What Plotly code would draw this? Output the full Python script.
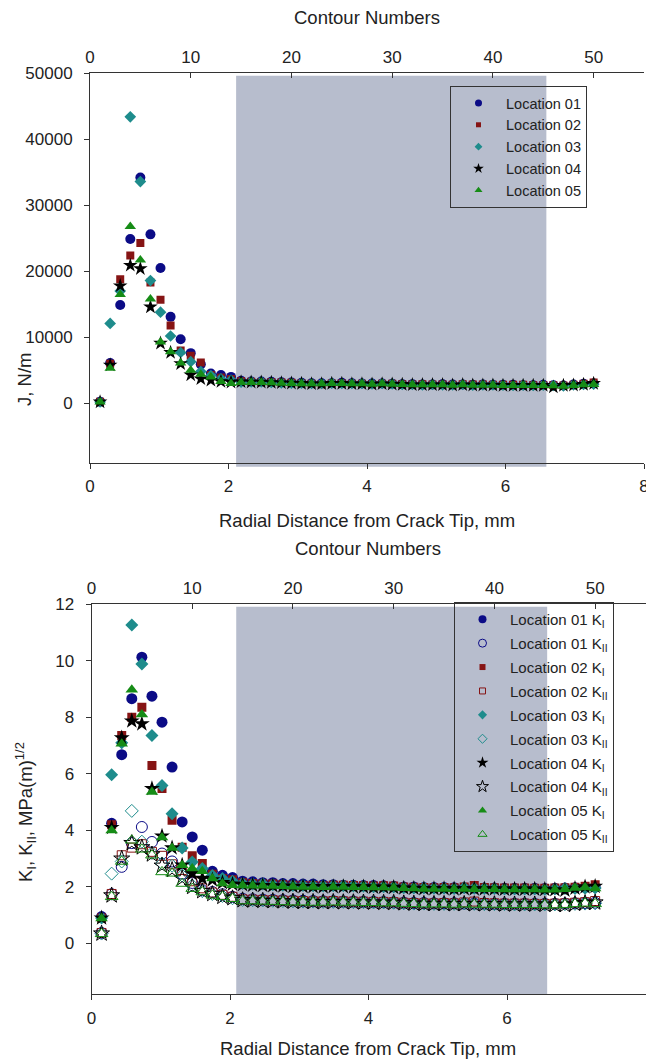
import plotly.graph_objects as go

W, H = 646, 1060

# ---------------- data ----------------
contours = [1, 2, 3, 4, 5, 6, 7, 8, 9, 10, 11, 12, 13, 14, 15, 16, 17, 18, 19, 20,
            21, 22, 23, 24, 25, 26, 27, 28, 29, 30, 31, 32, 33, 34, 35, 36, 37, 38, 39, 40,
            41, 42, 43, 44, 45, 46, 47, 48, 49, 50]

j_loc01 = [250, 6100, 14900, 24900, 34200, 25600, 20500, 13100, 9700, 7600, 5900, 4500, 4300, 4000,
           3400, 3300, 3300, 3250, 3200, 3150, 3100, 3050, 3050, 3050, 3100, 3050, 3000, 3000, 3000, 2950,
           2900, 2900, 2850, 2850, 2900, 2850, 2850, 2800, 2850, 2800, 2800, 2800, 2750, 2750, 2800, 2750,
           2700, 2850, 2950, 3000]
j_loc02 = [250, 6000, 18800, 22400, 24300, 18300, 15700, 11800, 8000, 7200, 6200, 4300, 3900, 3700,
           3350, 3250, 3200, 3200, 3150, 3100, 3000, 2950, 2900, 3000, 3000, 2950, 2950, 2900, 2950, 2950,
           2900, 2850, 2900, 2850, 2850, 2800, 2900, 2850, 2850, 2800, 2800, 2800, 2800, 2750, 2750, 2750,
           2700, 2800, 2950, 3150]
j_loc03 = [200, 12100, 17000, 43400, 33600, 18600, 13800, 10200, 7700, 6300, 4800, 4200, 3700, 3500,
           3200, 3250, 3250, 3150, 3100, 3050, 3050, 3000, 3000, 3050, 3000, 3000, 3000, 2950, 3000, 2950,
           2850, 2850, 2800, 2850, 2800, 2800, 2850, 2750, 2800, 2800, 2750, 2700, 2750, 2700, 2750, 2700,
           2650, 2800, 2850, 2900]
j_loc04 = [200, 5800, 17800, 20900, 20400, 14600, 9100, 7700, 6000, 4300, 3700, 3500, 3300, 3200,
           3250, 3200, 3200, 3150, 3100, 3050, 3000, 2950, 2950, 3000, 3000, 2950, 2950, 2900, 2950, 2900,
           2850, 2800, 2800, 2800, 2800, 2750, 2800, 2750, 2750, 2750, 2700, 2700, 2700, 2700, 2700, 2450,
           2700, 2750, 2850, 3000]
j_loc05 = [200, 5300, 16500, 26800, 21700, 15800, 9300, 7800, 6100, 5000, 4400, 4000, 3300, 3000,
           3150, 3150, 3150, 3100, 3050, 3000, 2950, 2950, 2950, 3000, 3000, 2950, 2950, 2900, 2950, 2900,
           2850, 2800, 2800, 2800, 2800, 2750, 2800, 2750, 2750, 2750, 2700, 2700, 2700, 2700, 2700, 2650,
           2600, 2700, 2800, 2850]

ki_loc01 = [0.95, 4.25, 6.68, 8.66, 10.13, 8.75, 7.83, 6.24, 4.30, 3.77, 3.30, 2.55, 2.41, 2.33,
            2.20, 2.18, 2.15, 2.15, 2.12, 2.12, 2.10, 2.10, 2.08, 2.08, 2.06, 2.06, 2.05, 2.05, 2.04, 2.02,
            2.00, 2.00, 1.98, 1.98, 1.98, 1.97, 1.97, 1.96, 1.96, 1.96, 1.95, 1.95, 1.95, 1.95, 1.94, 1.95,
            1.96, 1.97, 1.98, 2.00]
ki_loc02 = [0.90, 4.20, 7.36, 8.00, 8.36, 6.30, 5.48, 4.36, 3.40, 3.10, 2.83, 2.45, 2.30, 2.25,
            2.15, 2.12, 2.10, 2.10, 2.08, 2.06, 2.05, 2.05, 2.04, 2.06, 2.06, 2.05, 2.04, 2.03, 2.04, 2.03,
            2.00, 1.99, 1.98, 1.97, 1.98, 1.97, 2.00, 2.05, 1.98, 1.97, 1.96, 1.96, 1.96, 1.95, 1.95, 1.96,
            1.97, 1.99, 2.02, 2.08]
ki_loc03 = [0.90, 5.97, 7.10, 11.27, 9.89, 7.36, 5.59, 4.59, 3.38, 2.88, 2.65, 2.40, 2.30, 2.20,
            2.12, 2.10, 2.10, 2.08, 2.06, 2.05, 2.05, 2.04, 2.03, 2.04, 2.04, 2.03, 2.02, 2.01, 2.01, 2.00,
            1.97, 1.96, 1.96, 1.95, 1.95, 1.94, 1.97, 1.95, 1.94, 1.94, 1.93, 1.93, 1.93, 1.93, 1.92, 1.93,
            1.94, 1.94, 1.95, 1.96]
ki_loc04 = [0.90, 4.10, 7.27, 7.87, 7.77, 5.48, 3.80, 3.38, 2.77, 2.47, 2.30, 2.25, 2.15, 2.10,
            2.08, 2.06, 2.05, 2.04, 2.03, 2.02, 2.01, 2.01, 2.00, 2.01, 2.01, 2.00, 2.00, 1.99, 1.99, 1.98,
            1.96, 1.95, 1.94, 1.94, 1.94, 1.93, 1.94, 1.93, 1.93, 1.93, 1.92, 1.92, 1.92, 1.92, 1.91, 1.90,
            1.88, 1.95, 2.00, 2.02]
ki_loc05 = [0.88, 4.00, 7.07, 8.98, 8.10, 5.36, 3.75, 3.38, 2.77, 2.65, 2.55, 2.30, 2.12, 2.06,
            2.05, 2.04, 2.04, 2.03, 2.02, 2.01, 2.00, 2.00, 1.99, 2.00, 2.00, 1.99, 1.99, 1.98, 1.98, 1.97,
            1.95, 1.94, 1.93, 1.93, 1.93, 1.92, 1.93, 1.92, 1.92, 1.92, 1.91, 1.91, 1.91, 1.91, 1.90, 1.90,
            1.92, 1.96, 1.98, 1.94]

kii_loc01 = [0.37, 1.74, 2.71, 3.55, 4.12, 3.59, 3.18, 2.90, 2.47, 2.14, 1.88, 1.82, 1.74, 1.65,
             1.58, 1.56, 1.55, 1.54, 1.53, 1.52, 1.51, 1.50, 1.49, 1.49, 1.48, 1.48, 1.47, 1.47, 1.46, 1.45,
             1.44, 1.43, 1.43, 1.42, 1.42, 1.42, 1.41, 1.41, 1.41, 1.40, 1.40, 1.40, 1.40, 1.40, 1.40, 1.40,
             1.41, 1.42, 1.43, 1.44]
kii_loc02 = [0.37, 1.75, 3.12, 3.39, 3.51, 3.24, 3.10, 2.80, 2.60, 2.20, 1.95, 1.80, 1.72, 1.65,
             1.56, 1.55, 1.54, 1.53, 1.52, 1.51, 1.50, 1.49, 1.49, 1.50, 1.49, 1.48, 1.48, 1.47, 1.47, 1.46,
             1.44, 1.43, 1.42, 1.42, 1.43, 1.42, 1.45, 1.48, 1.43, 1.42, 1.41, 1.41, 1.41, 1.40, 1.40, 1.41,
             1.42, 1.44, 1.46, 1.50]
kii_loc03 = [0.35, 2.47, 2.90, 4.69, 3.60, 3.20, 2.83, 2.75, 2.40, 2.05, 1.85, 1.75, 1.68, 1.60,
             1.54, 1.53, 1.52, 1.51, 1.50, 1.49, 1.48, 1.48, 1.47, 1.47, 1.47, 1.46, 1.46, 1.45, 1.45, 1.44,
             1.42, 1.41, 1.41, 1.40, 1.40, 1.40, 1.42, 1.40, 1.39, 1.39, 1.39, 1.38, 1.38, 1.38, 1.38, 1.38,
             1.39, 1.40, 1.41, 1.42]
kii_loc04 = [0.35, 1.70, 3.00, 3.55, 3.40, 3.15, 2.75, 2.60, 2.30, 2.00, 1.85, 1.75, 1.65, 1.60,
             1.53, 1.52, 1.51, 1.50, 1.49, 1.48, 1.47, 1.47, 1.46, 1.47, 1.46, 1.46, 1.45, 1.45, 1.44, 1.44,
             1.42, 1.41, 1.40, 1.40, 1.40, 1.39, 1.40, 1.39, 1.39, 1.39, 1.38, 1.38, 1.38, 1.38, 1.37, 1.37,
             1.36, 1.40, 1.43, 1.45]
kii_loc05 = [0.34, 1.65, 2.90, 3.65, 3.33, 3.12, 2.53, 2.48, 2.12, 1.94, 1.82, 1.70, 1.65, 1.58,
             1.50, 1.50, 1.49, 1.48, 1.47, 1.46, 1.46, 1.45, 1.45, 1.46, 1.45, 1.45, 1.44, 1.44, 1.43, 1.43,
             1.41, 1.40, 1.39, 1.39, 1.39, 1.38, 1.39, 1.38, 1.38, 1.38, 1.37, 1.37, 1.37, 1.37, 1.36, 1.36,
             1.37, 1.40, 1.42, 1.40]

location_names = ["Location 01", "Location 02", "Location 03", "Location 04", "Location 05"]
radial_ticks = [0, 2, 4, 6, 8]
radial_ticks_bottom = [0, 2, 4, 6]
contour_ticks = [0, 10, 20, 30, 40, 50]
j_ticks = [0, 10000, 20000, 30000, 40000, 50000]
k_ticks = [0, 2, 4, 6, 8, 10, 12]
shade_mm_top = [2.11, 6.59]
shade_mm_bottom = [2.09, 6.58]

# ---------------- style ----------------
colors = ["#0B0B86", "#861414", "#1E8C8C", "#000000", "#168C16"]
symbols = ["circle", "square", "diamond", "star", "triangle-up"]
sizes = [10, 8, 9, 11, 10]
legend_sizes = [7, 5, 6, 8, 7]
FONT = "Liberation Sans, Arial, sans-serif"
AX = "#333333"

fig = go.Figure()

j_series = [j_loc01, j_loc02, j_loc03, j_loc04, j_loc05]
for i, ys in enumerate(j_series):
    fig.add_trace(go.Scatter(
        x=contours, y=ys, xaxis="x2", yaxis="y", mode="markers",
        name=location_names[i], showlegend=False,
        marker=dict(symbol=symbols[i], color=colors[i], size=sizes[i], line=dict(width=0)),
    ))
    # legend entry with a smaller marker, as in the reference
    fig.add_trace(go.Scatter(
        x=[None], y=[None], xaxis="x2", yaxis="y", mode="markers",
        name=location_names[i], legend="legend",
        marker=dict(symbol=symbols[i], color=colors[i], size=legend_sizes[i], line=dict(width=0)),
    ))

ki_series = [ki_loc01, ki_loc02, ki_loc03, ki_loc04, ki_loc05]
kii_series = [kii_loc01, kii_loc02, kii_loc03, kii_loc04, kii_loc05]
for i in range(5):
    fig.add_trace(go.Scatter(
        x=contours, y=ki_series[i], xaxis="x4", yaxis="y2", mode="markers",
        name=location_names[i] + " K<sub>I</sub>", showlegend=False,
        marker=dict(symbol=symbols[i], color=colors[i], size=sizes[i] + 1, line=dict(width=0)),
    ))
    fig.add_trace(go.Scatter(
        x=contours, y=kii_series[i], xaxis="x4", yaxis="y2", mode="markers",
        name=location_names[i] + " K<sub>II</sub>", showlegend=False,
        marker=dict(symbol=symbols[i] + "-open", color=colors[i], size=sizes[i] + 1,
                    line=dict(width=1, color=colors[i])),
    ))
for i in range(5):
    fig.add_trace(go.Scatter(
        x=[None], y=[None], xaxis="x4", yaxis="y2", mode="markers",
        name=location_names[i] + " K<sub>I</sub>", legend="legend2", legendgroup="a%d" % i,
        marker=dict(symbol=symbols[i], color=colors[i], size=legend_sizes[i] + 1, line=dict(width=0)),
    ))
    fig.add_trace(go.Scatter(
        x=[None], y=[None], xaxis="x4", yaxis="y2", mode="markers",
        name=location_names[i] + " K<sub>II</sub>", legend="legend2", legendgroup="b%d" % i,
        marker=dict(symbol=symbols[i] + "-open", color=colors[i], size=legend_sizes[i] + 1,
                    line=dict(width=1, color=colors[i])),
    ))

tickfont = dict(family=FONT, size=17, color="#222222")
common = dict(showgrid=False, zeroline=False, showline=True, linecolor=AX, linewidth=1,
              tickcolor=AX, ticklen=5, tickwidth=1, tickfont=tickfont, automargin=False,
              ticklabeloverflow="allow")

top_dom = [1 - 462.7 / H, 1 - 73.3 / H]
bot_dom = [1 - 994.3 / H, 1 - 604.3 / H]
xdom_top = [90 / W, 644 / W]
xdom_bot = [91.5 / W, 645.5 / W]

fig.update_layout(
    template="none",
    width=W, height=H,
    margin=dict(l=0, r=0, t=0, b=0, pad=0, autoexpand=False),
    paper_bgcolor="white", plot_bgcolor="rgba(0,0,0,0)",
    font=dict(family=FONT, color="#222222"),
    xaxis=dict(domain=xdom_top, anchor="y", range=[0, 8], tickvals=radial_ticks,
               ticks="outside", ticklabelstandoff=3, **common),
    xaxis2=dict(overlaying="x", side="top", anchor="y", range=[0, 55], tickvals=contour_ticks,
                ticks="inside", ticklabelstandoff=3, **common),
    yaxis=dict(domain=top_dom, anchor="x", range=[-9000, 50000], tickvals=j_ticks,
               tickformat="d", ticks="outside", ticklabelstandoff=8, **common),
    xaxis3=dict(domain=xdom_bot, anchor="y2", range=[0, 8], tickvals=radial_ticks_bottom,
                ticks="outside", ticklabelstandoff=3, **common),
    xaxis4=dict(overlaying="x3", side="top", anchor="y2", range=[0, 55], tickvals=contour_ticks,
                ticks="inside", ticklabelstandoff=3, **common),
    yaxis2=dict(domain=bot_dom, anchor="x3", range=[-1.8, 12], tickvals=k_ticks,
                ticks="outside", ticklabelstandoff=8, **common),
    legend=dict(x=450 / W, y=1 - 86 / H, xanchor="left", yanchor="top",
                bgcolor="rgba(0,0,0,0)", bordercolor=AX, borderwidth=1,
                font=dict(family=FONT, size=14.5, color="#222222"), itemwidth=45),
    legend2=dict(x=454 / W, y=1 - 602 / H, xanchor="left", yanchor="top",
                 bgcolor="rgba(0,0,0,0)", bordercolor=AX, borderwidth=1, tracegroupgap=1.4,
                 font=dict(family=FONT, size=15, color="#222222"), itemwidth=45),
    showlegend=True,
)

fig.add_shape(type="rect", xref="x", yref="y domain", x0=shade_mm_top[0], x1=shade_mm_top[1],
              y0=-0.0103, y1=0.994, fillcolor="#B7BDCD", line=dict(width=0), layer="below")
fig.add_shape(type="rect", xref="x3", yref="y2 domain", x0=shade_mm_bottom[0], x1=shade_mm_bottom[1],
              y0=0, y1=0.994, fillcolor="#B7BDCD", line=dict(width=0), layer="below")

tfont = dict(family=FONT, size=18.5, color="#222222")
def ann(text, xpx, ypx, angle=0):
    fig.add_annotation(text=text, xref="paper", yref="paper", x=xpx / W, y=1 - ypx / H,
                       xanchor="center", yanchor="middle", showarrow=False, font=tfont,
                       textangle=angle)

ann("Contour Numbers", 367, 18)
ann("Radial Distance from Crack Tip, mm", 367, 520)
ann("Contour Numbers", 368, 548)
ann("Radial Distance from Crack Tip, mm", 368, 1048)
ann("J, N/m", 25, 380, -90)
ann("K<sub>I</sub>, K<sub>II</sub>, MPa(m)<sup>1/2</sup>", 25, 812, -90)

fig.write_html(
    "out.html",
    config={"displayModeBar": False},
    post_script="document.body.style.margin='0';document.body.style.padding='0';"
                "document.body.style.overflow='hidden';",
)
